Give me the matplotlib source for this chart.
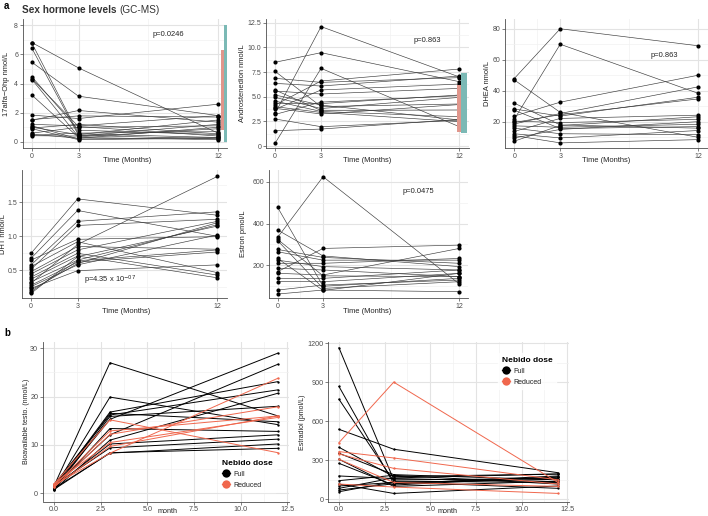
import matplotlib
matplotlib.use("Agg")
import matplotlib.pyplot as plt
from matplotlib.lines import Line2D

plt.rcParams['font.family'] = ['Liberation Sans', 'DejaVu Sans']

W, H = 708, 516

# ---------------- data ----------------
months = [0, 3, 12]

ohp_t0 = [6.80, 6.75, 6.40, 5.45, 4.45, 4.32, 4.27, 3.20, 1.83, 1.53, 1.48, 1.20, 1.10, 1.00, 0.95, 0.90, 0.60, 0.52, 0.45, 0.42]
ohp_t3 = [5.07, 0.55, 0.45, 3.13, 0.80, 1.05, 0.35, 0.30, 1.60, 1.78, 2.15, 1.10, 0.20, 0.50, 1.20, 0.15, 1.00, 0.25, 0.60, 0.40]
ohp_t12 = [0.60, 0.30, 0.20, 1.80, 0.50, 0.40, 0.90, 0.15, 2.58, 1.70, 1.35, 1.80, 0.30, 1.50, 0.55, 0.25, 1.10, 1.00, 0.70, 1.20]
ohp_ref_salmon = (0.8, 6.29)
ohp_ref_teal = (0.0, 8.0)

andro_t0 = [8.48, 7.57, 6.86, 6.35, 5.68, 5.57, 5.17, 4.93, 4.56, 4.32, 4.15, 3.99, 3.82, 3.72, 3.30, 3.20, 2.74, 1.55, 0.27]
andro_t3 = [9.46, 4.00, 6.45, 6.08, 3.60, 5.27, 4.15, 3.80, 3.50, 4.30, 6.59, 3.40, 3.25, 5.68, 12.10, 4.45, 1.96, 1.72, 7.87]
andro_t12 = [6.52, 4.26, 6.93, 7.09, 3.65, 5.84, 2.64, 4.93, 2.97, 5.17, 7.80, 2.47, 4.20, 6.28, 7.00, 5.10, 2.60, 2.70, 1.96]
andro_ref_salmon = (1.45, 6.18)
andro_ref_teal = (1.35, 7.43)

dhea_t0 = [47.8, 47.0, 32.0, 28.2, 27.4, 23.6, 21.5, 20.4, 18.5, 17.3, 15.8, 13.7, 12.2, 11.0, 9.5, 7.4, 19.5]
dhea_t3 = [80.0, 26.0, 17.9, 23.6, 15.6, 32.6, 70.0, 19.4, 25.3, 16.4, 12.2, 22.1, 9.5, 6.3, 15.0, 17.5, 24.5]
dhea_t12 = [69.0, 9.9, 15.8, 35.8, 16.8, 50.0, 38.3, 21.5, 42.5, 18.3, 11.6, 24.2, 14.3, 8.4, 20.0, 23.2, 34.7]

dht_t0 = [0.75, 0.676, 0.65, 0.578, 0.554, 0.515, 0.48, 0.446, 0.40, 0.37, 0.33, 0.31, 0.28, 0.26, 0.235, 0.21, 0.186, 0.16]
dht_t3 = [1.55, 1.38, 0.956, 1.22, 0.92, 1.16, 0.85, 0.80, 0.75, 0.71, 0.65, 0.88, 0.62, 0.58, 0.495, 0.60, 0.64, 0.70]
dht_t12 = [1.31, 1.00, 0.995, 1.36, 0.466, 1.25, 0.81, 1.22, 0.43, 0.39, 1.17, 1.88, 0.77, 1.02, 0.58, 1.20, 0.80, 1.15]

estron_t0 = [477, 369, 334, 324, 318, 276, 265, 233, 225, 210, 186, 170, 162, 138, 122, 82, 63]
estron_t3 = [100, 245, 624, 150, 90, 238, 225, 80, 194, 210, 178, 281, 154, 138, 122, 106, 82]
estron_t12 = [138, 194, 111, 146, 122, 210, 225, 162, 178, 233, 146, 297, 281, 178, 162, 130, 74]

bio_full_t0 = [1.5, 1.0, 1.2, 0.8, 1.8, 0.6, 1.1, 0.9, 1.4, 0.7, 1.3, 1.6, 0.8, 1.0]
bio_full_t3 = [27.0, 19.9, 16.8, 16.55, 16.2, 15.9, 15.3, 13.4, 12.1, 11.0, 10.2, 9.4, 8.4, 8.3]
bio_full_t12 = [16.0, 14.2, 23.1, 14.8, 21.4, 18.0, 29.0, 12.8, 26.7, 20.7, 12.1, 11.2, 9.3, 10.2]
bio_red_t0 = [1.9, 1.6, 1.2, 2.0, 1.4, 1.7]
bio_red_t3 = [15.2, 12.9, 12.2, 10.5, 9.7, 8.3]
bio_red_t12 = [8.4, 16.0, 17.9, 15.7, 16.0, 23.8]

e2_full_t0 = [1164, 867, 769, 538, 400, 354, 277, 180, 144, 118, 103, 85, 72, 59, 308]
e2_full_t3 = [150, 120, 140, 385, 175, 190, 110, 160, 185, 46, 130, 165, 120, 135, 100]
e2_full_t12 = [160, 180, 130, 205, 195, 150, 174, 136, 118, 103, 154, 195, 170, 85, 140]
e2_red_t0 = [436, 367, 349, 308, 118]
e2_red_t3 = [900, 318, 238, 130, 95]
e2_red_t12 = [130, 150, 118, 100, 46]

# ---------------- style ----------------
BLACK = '#000000'
RED = '#F0674D'
SALMON = '#E0968C'
TEAL = '#7BB9B5'
GRID_MAJ = '#E3E3E3'
GRID_MIN = '#F1F1F1'
AXC = '#4D4D4D'
TXT = '#4D4D4D'

fig = plt.figure(figsize=(W / 100, H / 100), dpi=100)


def add_ax(l, t, r, b):
    ax = fig.add_axes([l / W, 1 - b / H, (r - l) / W, (b - t) / H])
    ax._px = (l, t, r, b)
    return ax


def style(ax, xmaj, xmin, ymaj, ymin, xlim, ylim, xlabels=None, ylabels=None, fs=5.0):
    ax.set_xlim(*xlim)
    ax.set_ylim(*ylim)
    ax.set_xticks(xmaj)
    ax.set_xticks(xmin, minor=True)
    ax.set_yticks(ymaj)
    ax.set_yticks(ymin, minor=True)
    if xlabels is not None:
        ax.set_xticklabels(xlabels)
    if ylabels is not None:
        ax.set_yticklabels(ylabels)
    ax.grid(True, which='major', color=GRID_MAJ, lw=0.8, zorder=0)
    ax.grid(True, which='minor', color=GRID_MIN, lw=0.5, zorder=0)
    ax.set_axisbelow(True)
    for s in ['top', 'right']:
        ax.spines[s].set_visible(False)
    for s in ['left', 'bottom']:
        ax.spines[s].set_color(AXC)
        ax.spines[s].set_linewidth(0.6)
    ax.tick_params(which='major', length=2, width=0.5, color=AXC, labelsize=fs,
                   labelcolor=TXT, pad=1.3)
    ax.tick_params(which='minor', length=0)
    ax.set_facecolor('white')


def labels(ax, xl, yl, ycx, xcx, xcy, fsx=5.4, fsy=5.4):
    l, t, r, b = ax._px
    ax.set_ylabel(yl, fontsize=fsy, color='#222222')
    ax.yaxis.set_label_coords((ycx + 3 - l) / (r - l), 0.5)
    ax.set_xlabel(xl, fontsize=fsx, color='#222222')
    ax.xaxis.set_label_coords((xcx - l) / (r - l), -(xcy - 3.5 - b) / (b - t))


def paired(ax, t0, t3, t12, color='#3a3a3a', lw=0.45, ms=3.0, mcolor=BLACK):
    for a, b, c in zip(t0, t3, t12):
        ax.plot(months, [a, b, c], color=color, lw=lw, zorder=2)
    for vals, m in zip([t0, t3, t12], months):
        ax.plot([m] * len(vals), vals, 'o', color=mcolor, ms=ms, mew=0, zorder=3)


LFS = 5.4
xa_maj = [0, 3, 12]
xa_min = [1.5, 7.5]

# ---- a1: 17alfa-Ohp ----
ax1 = add_ax(22.7, 19, 227.3, 148)
style(ax1, xa_maj, xa_min, [0, 2, 4, 6, 8], [1, 3, 5, 7], (-0.6, 12.6), (-0.42, 8.42))
paired(ax1, ohp_t0, ohp_t3, ohp_t12)
ax1.bar(12.28, ohp_ref_salmon[1] - ohp_ref_salmon[0], bottom=ohp_ref_salmon[0], width=0.22,
        color=SALMON, zorder=4)
ax1.bar(12.50, ohp_ref_teal[1] - ohp_ref_teal[0], bottom=ohp_ref_teal[0], width=0.22,
        color=TEAL, zorder=4)
ax1.text(8.8, 7.35, 'p=0.0246', fontsize=LFS, color='#222222', ha='center', va='center')
labels(ax1, 'Time (Months)', '17alfa\u2212Ohp nmol/L', 7, 127, 160.5)

# ---- a2: Androstenedion ----
ax2 = add_ax(265.8, 19, 468.5, 148)
style(ax2, xa_maj, xa_min, [0, 2.5, 5, 7.5, 10, 12.5], [1.25, 3.75, 6.25, 8.75, 11.25],
      (-0.6, 12.6), (-0.2, 12.87), ylabels=['0', '2.5', '5.0', '7.5', '10.0', '12.5'])
paired(ax2, andro_t0, andro_t3, andro_t12)
ax2.bar(11.98, andro_ref_salmon[1] - andro_ref_salmon[0], bottom=andro_ref_salmon[0], width=0.26,
        color=SALMON, zorder=4)
ax2.bar(12.30, andro_ref_teal[1] - andro_ref_teal[0], bottom=andro_ref_teal[0], width=0.38,
        color=TEAL, zorder=4)
ax2.text(9.9, 10.7, 'p=0.863', fontsize=LFS, color='#222222', ha='center', va='center')
labels(ax2, 'Time (Months)', 'Androstenedion nmol/L', 243, 367, 160.5)

# ---- a3: DHEA ----
ax3 = add_ax(505, 19, 707.5, 148)
style(ax3, xa_maj, xa_min, [20, 40, 60, 80], [10, 30, 50, 70], (-0.6, 12.6), (3.0, 86.3))
paired(ax3, dhea_t0, dhea_t3, dhea_t12)
ax3.text(9.8, 63, 'p=0.863', fontsize=LFS, color='#222222', ha='center', va='center')
labels(ax3, 'Time (Months)', 'DHEA nmol/L', 488, 606, 160.5)

# ---- a4: DHT ----
ax4 = add_ax(21.7, 170, 226.6, 298)
style(ax4, xa_maj, xa_min, [0.5, 1.0, 1.5], [0.25, 0.75, 1.25, 1.75], (-0.6, 12.6), (0.093, 1.975))
paired(ax4, dht_t0, dht_t3, dht_t12)
ax4.text(5.1, 0.35, r'p=4.35 x 10$^{-07}$', fontsize=LFS, color='#222222', ha='center', va='center')
labels(ax4, 'Time (Months)', 'DHT nmol/L', 4.5, 126, 311.5)

# ---- a5: Estron ----
ax5 = add_ax(268.6, 170, 468.4, 298)
style(ax5, xa_maj, xa_min, [200, 400, 600], [100, 300, 500], (-0.6, 12.6), (44, 656))
paired(ax5, estron_t0, estron_t3, estron_t12)
ax5.text(9.3, 555, 'p=0.0475', fontsize=LFS, color='#222222', ha='center', va='center')
labels(ax5, 'Time (Months)', 'Estron pmol/L', 244, 367, 311.5)

# ---- b ----
xb_maj = [0, 2.5, 5, 7.5, 10, 12.5]
xb_min = [1.25, 3.75, 6.25, 8.75, 11.25]
xb_lab = ['0.0', '2.5', '5.0', '7.5', '10.0', '12.5']


def paired_b(ax, t0, t3, t12, color):
    for a, b, c in zip(t0, t3, t12):
        ax.plot(months, [a, b, c], color=color, lw=0.7, zorder=2, marker='o', ms=1.7, mew=0)


def legend_b(ax, loc_xy):
    handles = [Line2D([0], [0], color=BLACK, lw=0.9, marker='o', ms=6, mew=0, label='Full'),
               Line2D([0], [0], color=RED, lw=0.9, marker='o', ms=6, mew=0, label='Reduced')]
    leg = ax.legend(handles=handles, title='Nebido dose', loc='upper left', bbox_to_anchor=loc_xy,
                    frameon=True, fontsize=5.0, title_fontsize=6.0, handlelength=1.1,
                    handletextpad=0.6, labelspacing=0.55, borderpad=0.5, alignment='left')
    leg.get_frame().set_facecolor('white')
    leg.get_frame().set_edgecolor('white')
    leg.get_title().set_fontweight('bold')
    for t in leg.get_texts():
        t.set_color('#222222')
    return leg


ax6 = add_ax(42.8, 342, 289.1, 501.5)
style(ax6, xb_maj, xb_min, [0, 10, 20, 30], [5, 15, 25], (-0.6, 12.6), (-1.7, 31.3),
      xlabels=xb_lab, fs=5.2)
paired_b(ax6, bio_full_t0, bio_full_t3, bio_full_t12, BLACK)
paired_b(ax6, bio_red_t0, bio_red_t3, bio_red_t12, RED)
labels(ax6, 'month', 'Bioavailable testo. (nmol/L)', 26.7, 168, 511.5, fsx=5.2, fsy=5.0)
legend_b(ax6, ((215 - 42.8) / (289.1 - 42.8), 1 - (453 - 342) / (501.5 - 342)))

ax7 = add_ax(328, 342, 569, 501.5)
style(ax7, xb_maj, xb_min, [0, 300, 600, 900, 1200], [150, 450, 750, 1050], (-0.6, 12.6),
      (-16, 1208), xlabels=xb_lab, fs=5.2)
paired_b(ax7, e2_full_t0, e2_full_t3, e2_full_t12, BLACK)
paired_b(ax7, e2_red_t0, e2_red_t3, e2_red_t12, RED)
labels(ax7, 'month', 'Estradiol (pmol/L)', 303, 448, 511.5, fsx=5.2, fsy=5.0)
legend_b(ax7, ((495 - 328) / (569 - 328), 1 - (350 - 342) / (501.5 - 342)))

# ---- titles / panel letters ----
fig.text(4 / W, 1 - 6 / H, 'a', fontsize=7, fontweight='bold', va='center', ha='left')
fig.text(4 / W, 1 - 333 / H, 'b', fontsize=7, fontweight='bold', va='center', ha='left')
t1 = fig.text(22 / W, 1 - 10 / H, 'Sex hormone levels', fontsize=7.2, fontweight='bold',
              color='#333333', va='center', ha='left')
fig.canvas.draw()
bb = t1.get_window_extent()
fig.text((bb.x1 + 3) / W, 1 - 10 / H, '(GC-MS)', fontsize=7.2, color='#333333', va='center', ha='left')

fig.savefig('out.png', dpi=100)
